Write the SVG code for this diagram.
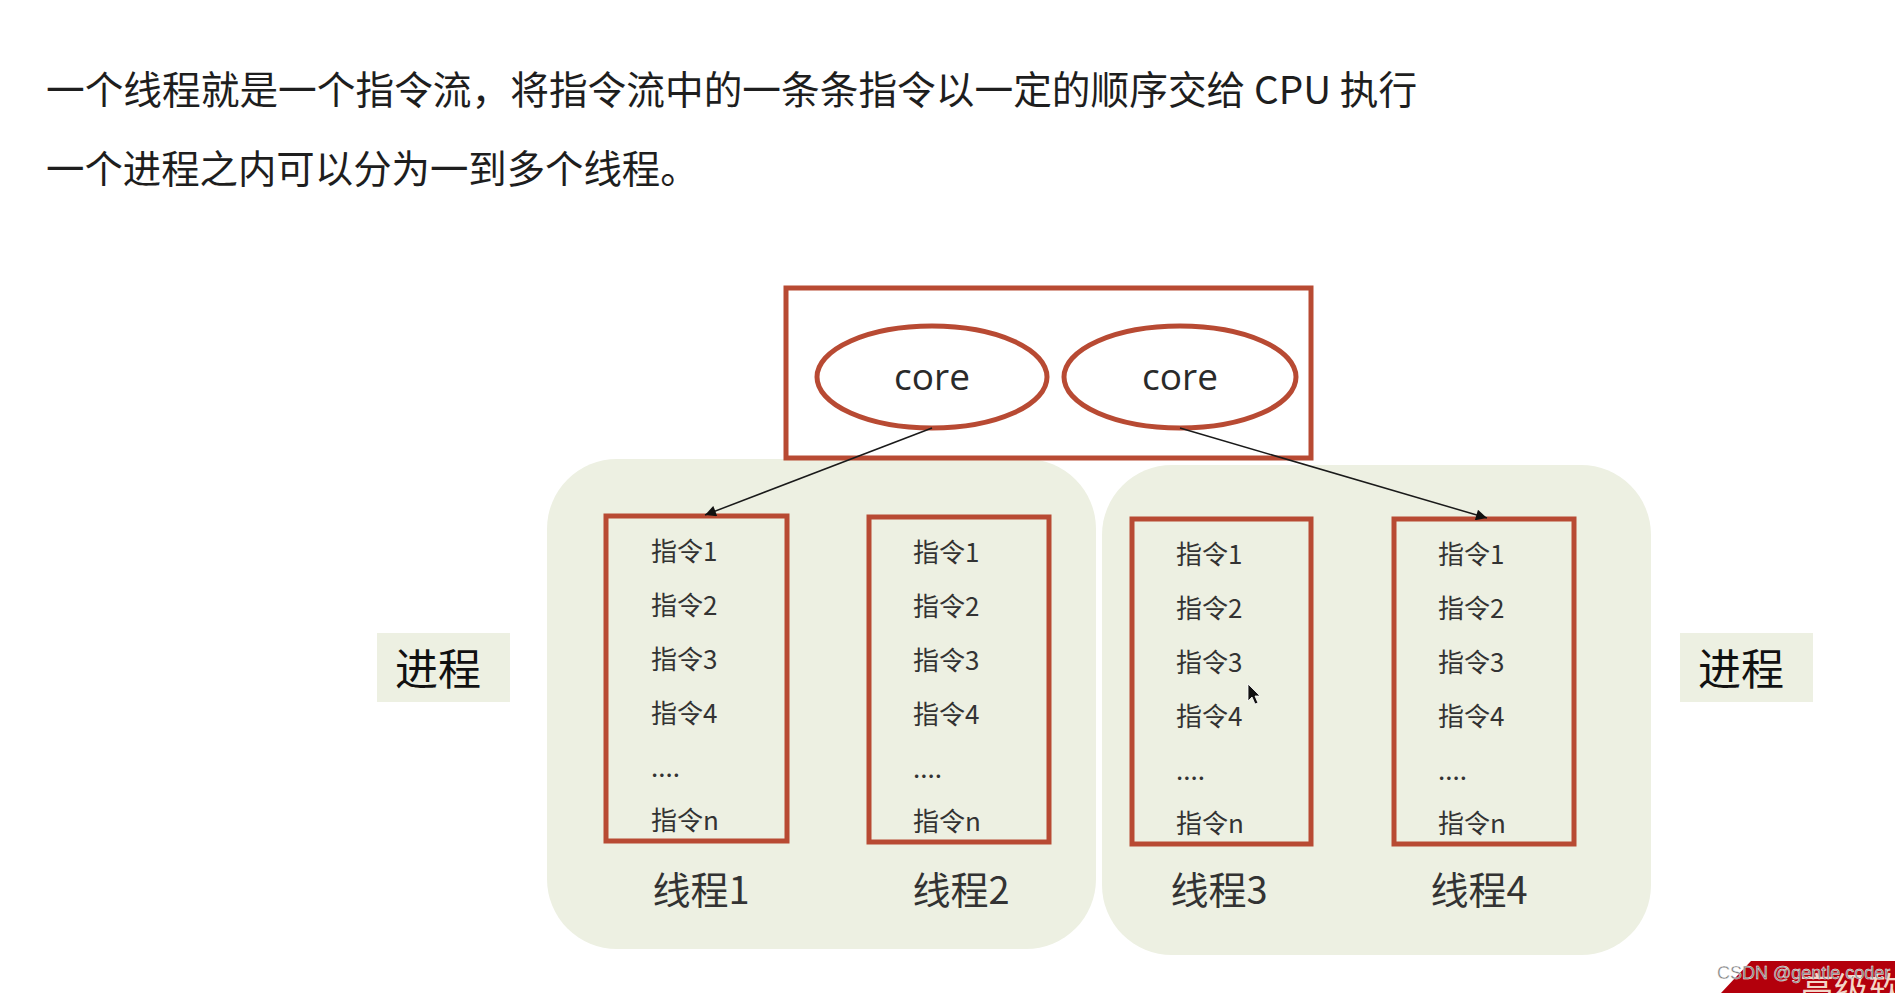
<svg xmlns="http://www.w3.org/2000/svg" width="1895" height="993" viewBox="0 0 1895 993">
<defs>
<style>
.title{font-family:"Noto Sans CJK SC","Noto Sans",sans-serif;fill:#1e1e1e}
.grp{fill:#edf0e2}
.box{fill:none;stroke:#b84a33;stroke-width:5}
.core{fill:#ffffff;stroke:#b84a33;stroke-width:5}
.coret{font-family:"Open Sans","Noto Sans",sans-serif;font-size:37px;fill:#2a2a2a;text-anchor:middle}
.ins{font-family:"Noto Sans CJK SC","Noto Sans",sans-serif;font-size:26px;fill:#333333}
.tl{font-family:"Noto Sans CJK SC","Noto Sans",sans-serif;font-size:38px;fill:#333333;text-anchor:middle}
.pl{font-family:"Noto Sans CJK SC","Noto Sans",sans-serif;font-size:43px;fill:#111111;text-anchor:middle}
.conn{stroke:#1a1a1a;stroke-width:1.5;fill:none}
</style>
<marker id="ah" viewBox="0 0 10 10" refX="10" refY="5" markerWidth="12" markerHeight="11" markerUnits="userSpaceOnUse" orient="auto"><path d="M0,0 L10,5 L0,10 z" fill="#111"/></marker>
</defs>
<rect width="1895" height="993" fill="#ffffff"/>
<g id="header">
<text class="title" x="46" y="104" font-size="38.7">一个线程就是一个指令流，将指令流中的一条条指令以一定的顺序交给 CPU 执行</text>
<text class="title" x="46" y="183" font-size="38.4">一个进程之内可以分为一到多个线程。</text>
</g>
<g id="process1"><rect class="grp" x="547" y="459" width="549" height="490" rx="70"/></g>
<g id="process2"><rect class="grp" x="1102" y="465" width="549" height="490" rx="70"/></g>
<g id="cpu">
<rect class="box" x="786" y="288" width="525" height="170"/>
</g>
<g id="core1">
<ellipse class="core" cx="932" cy="377" rx="115" ry="51"/>
<text class="coret" x="932" y="390">core</text>
</g>
<g id="core2">
<ellipse class="core" cx="1180" cy="377" rx="116" ry="51"/>
<text class="coret" x="1180" y="390">core</text>
</g>
<g id="thread1">
<rect class="box" x="606" y="516" width="181" height="325"/>
<text class="ins" x="651" y="561">指令1</text>
<text class="ins" x="651" y="615">指令2</text>
<text class="ins" x="651" y="669">指令3</text>
<text class="ins" x="651" y="723">指令4</text>
<text class="ins" x="651" y="777">....</text>
<text class="ins" x="651" y="830">指令n</text>
<text class="tl" x="701" y="904">线程1</text>
</g>
<g id="thread2">
<rect class="box" x="869" y="517" width="180" height="325"/>
<text class="ins" x="913" y="562">指令1</text>
<text class="ins" x="913" y="616">指令2</text>
<text class="ins" x="913" y="670">指令3</text>
<text class="ins" x="913" y="724">指令4</text>
<text class="ins" x="913" y="778">....</text>
<text class="ins" x="913" y="831">指令n</text>
<text class="tl" x="961" y="904">线程2</text>
</g>
<g id="thread3">
<rect class="box" x="1132" y="519" width="179" height="325"/>
<text class="ins" x="1176" y="564">指令1</text>
<text class="ins" x="1176" y="618">指令2</text>
<text class="ins" x="1176" y="672">指令3</text>
<text class="ins" x="1176" y="726">指令4</text>
<text class="ins" x="1176" y="780">....</text>
<text class="ins" x="1176" y="833">指令n</text>
<text class="tl" x="1219" y="904">线程3</text>
</g>
<g id="thread4">
<rect class="box" x="1394" y="519" width="180" height="325"/>
<text class="ins" x="1438" y="564">指令1</text>
<text class="ins" x="1438" y="618">指令2</text>
<text class="ins" x="1438" y="672">指令3</text>
<text class="ins" x="1438" y="726">指令4</text>
<text class="ins" x="1438" y="780">....</text>
<text class="ins" x="1438" y="833">指令n</text>
<text class="tl" x="1479" y="904">线程4</text>
</g>
<g id="label-left">
<rect class="grp" x="377" y="633" width="133" height="69"/>
<text class="pl" x="438" y="685">进程</text>
</g>
<g id="label-right">
<rect class="grp" x="1680" y="633" width="133" height="69"/>
<text class="pl" x="1741" y="685">进程</text>
</g>
<g id="connectors">
<line class="conn" x1="932" y1="428" x2="705" y2="515" marker-end="url(#ah)"/>
<line class="conn" x1="1180" y1="428" x2="1487" y2="518" marker-end="url(#ah)"/>
</g>
<g id="cursor">
<path d="M1248,684 L1248,701 L1252,697 L1255,704 L1258,703 L1255,696 L1260,696 z" fill="#111" stroke="#fff" stroke-width="0.8"/>
</g>
<g id="watermark">
<path d="M1751,961 L1895,961 L1895,993 L1721,993 z" fill="#b3000c"/>
<text x="1800" y="1002" font-family="Noto Sans CJK SC,serif" font-size="34" fill="#f3d6c8">高级软</text>
<text x="1717" y="979" font-family="Liberation Sans,Arial,sans-serif" font-size="18" fill="#777" stroke="#fff" stroke-width="0.4">CSDN @gentle coder</text>
</g>
</svg>
